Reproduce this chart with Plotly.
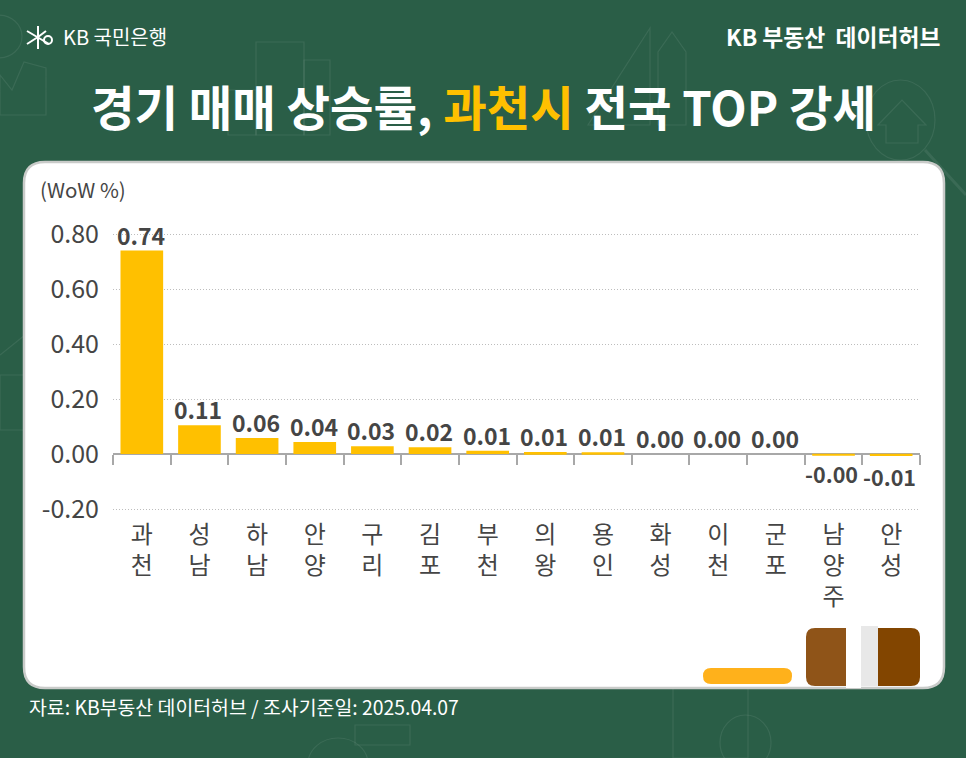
import plotly.graph_objects as go

W, H = 966, 758
regions = ["과천", "성남", "하남", "안양", "구리", "김포", "부천", "의왕", "용인", "화성", "이천", "군포", "남양주", "안성"]
values = [0.74, 0.105, 0.058, 0.044, 0.028, 0.025, 0.012, 0.007, 0.006, 0.0, 0.0, 0.0, -0.004, -0.007]
value_labels = ["0.74", "0.11", "0.06", "0.04", "0.03", "0.02", "0.01", "0.01", "0.01", "0.00", "0.00", "0.00", "-0.00", "-0.01"]
y_ticks = [-0.2, 0, 0.2, 0.4, 0.6, 0.8]
y_tick_labels = ["-0.20", "0.00", "0.20", "0.40", "0.60", "0.80"]

FONT = "Noto Sans CJK KR"
GREEN = "#2A5E47"
LINE = "rgba(255,255,255,0.08)"
TEXT = "#454545"


def px(x):
    return x / W


def py(y):
    return 1 - y / H


def rrect(x0, y0, x1, y1, r):
    return (f"M{px(x0+r)},{py(y0)} L{px(x1-r)},{py(y0)} Q{px(x1)},{py(y0)} {px(x1)},{py(y0+r)} "
            f"L{px(x1)},{py(y1-r)} Q{px(x1)},{py(y1)} {px(x1-r)},{py(y1)} L{px(x0+r)},{py(y1)} "
            f"Q{px(x0)},{py(y1)} {px(x0)},{py(y1-r)} L{px(x0)},{py(y0+r)} Q{px(x0)},{py(y0)} {px(x0+r)},{py(y0)} Z")


def pshape(path, fill=None, line=None, width=1, layer="below"):
    return dict(type="path", xref="paper", yref="paper", path=path, fillcolor=fill or "rgba(0,0,0,0)",
                line=dict(color=line or "rgba(0,0,0,0)", width=width), layer=layer)


def poly(points, close=False):
    s = "M" + " L".join(f"{px(x)},{py(y)}" for x, y in points)
    return s + (" Z" if close else "")


def box(x0, y0, x1, y1):
    return dict(type="rect", xref="paper", yref="paper", x0=px(x0), x1=px(x1), y0=py(y1), y1=py(y0),
                line=dict(color=LINE, width=1.2), fillcolor="rgba(0,0,0,0)", layer="below")


def circ(x0, y0, x1, y1):
    return dict(type="circle", xref="paper", yref="paper", x0=px(x0), x1=px(x1), y0=py(y1), y1=py(y0),
                line=dict(color=LINE, width=1.2), fillcolor="rgba(0,0,0,0)", layer="below")


shapes = [
    # faint background drawings
    box(256, 42, 304, 135), box(304, 60, 330, 135), box(228, 90, 256, 135),
    pshape(poly([(650, 28), (650, 125), (588, 125)], True), line=LINE, width=1.2),
    pshape(poly([(658, 125), (658, 52), (672, 32), (686, 52), (686, 125)], True), line=LINE, width=1.2),
    circ(866, 80, 935, 160),
    pshape(poly([(878, 125), (902, 100), (926, 125), (918, 125), (918, 143), (886, 143), (886, 125)], True), line=LINE, width=1.2),
    pshape(poly([(925, 150), (966, 195)]), line=LINE, width=3),
    circ(-25, 15, 22, 58),
    pshape(poly([(0, 115), (0, 75), (12, 90), (24, 62), (46, 68), (46, 115)], True), line=LINE, width=1.2),
    pshape(poly([(0, 355), (25, 335)]), line=LINE, width=1.2),
    box(0, 375, 25, 430),
    box(673, 688, 748, 758),
    circ(720, 715, 771, 770),
    circ(308, 738, 368, 790),
    box(355, 725, 410, 745),
    # white card
    pshape(rrect(24, 162, 944, 688, 21), fill="#FFFFFF", line="#C9CBC9", width=2.5),
    # decorative blocks at the bottom of the card
    pshape(rrect(703, 668, 792, 684, 8), fill="#FFB11B"),
    pshape(rrect(806, 628, 860, 686, 9), fill="#8F5418"),
    dict(type="rect", xref="paper", yref="paper", x0=px(846), x1=px(861), y0=py(688), y1=py(626),
         fillcolor="#FFFFFF", line=dict(width=0), layer="below"),
    dict(type="rect", xref="paper", yref="paper", x0=px(861), x1=px(878), y0=py(686), y1=py(626),
         fillcolor="#E8E8E8", line=dict(width=0), layer="below"),
    pshape(f"M{px(878)},{py(628)} L{px(911)},{py(628)} Q{px(920)},{py(628)} {px(920)},{py(637)} L{px(920)},{py(677)} "
           f"Q{px(920)},{py(686)} {px(911)},{py(686)} L{px(878)},{py(686)} Z", fill="#824500"),
    # KB logo mark
    pshape(poly([(38, 26), (38, 49)]), line="#FFFFFF", width=2),
    pshape(poly([(27, 31), (49, 44)]), line="#FFFFFF", width=2),
    pshape(poly([(27, 44), (38, 37)]), line="#FFFFFF", width=2),
    pshape(poly([(46, 31), (38, 37)]), line="#FFFFFF", width=2),
    dict(type="circle", xref="paper", yref="paper", x0=px(44), x1=px(52), y0=py(44), y1=py(36),
         line=dict(color="#FFFFFF", width=2), fillcolor="rgba(0,0,0,0)", layer="below"),
]


def label(text, x, y, size, color="#FFFFFF", anchor="left", weight=None):
    if weight:
        text = f"<b>{text}</b>"
    return dict(text=text, x=px(x), y=py(y), xref="paper", yref="paper", xanchor=anchor, yanchor="middle",
                showarrow=False, font=dict(family=FONT, size=size, color=color))


categories = ["<br>".join(r) for r in regions]

annotations = [
    label("KB 국민은행", 61, 37, 20),
    label("KB 부동산  데이터허브", 943, 37, 22.8, anchor="right", weight=True),
    label("경기 매매 상승률, <span style='color:#FFC000'>과천시</span> 전국 TOP 강세", 483, 105, 47.3, anchor="center", weight=True),
    label("(WoW %)", 38, 189, 20.5, color=TEXT),
    label("자료: KB부동산 데이터허브 / 조사기준일: 2025.04.07", 27, 706, 19.4),
]
# value labels placed through the axes, from the data lists
for c, v, t in zip(categories, values, value_labels):
    neg = v < 0
    annotations.append(dict(
        x=c, y=v, xref="x", yref="y", text=f"<b>{t}</b>", showarrow=False, xanchor="center", yanchor="middle",
        xshift=-2 if neg else -1, yshift=(-18 if t == "-0.00" else -21) if neg else 16,
        font=dict(family=FONT, size=21.5 if neg else 23, color=TEXT),
    ))

fig = go.Figure(go.Bar(
    x=categories, y=values, cliponaxis=False,
    marker=dict(color="#FFC000", line=dict(width=0)), width=0.74, hoverinfo="skip",
))

UNIT = 275  # pixels for the full -0.2..0.8 span
PAD = 0.005
zero_pos = py(454)
fig.update_layout(
    width=W, height=H, autosize=False, margin=dict(l=0, r=0, t=0, b=0),
    paper_bgcolor=GREEN, plot_bgcolor="rgba(0,0,0,0)", showlegend=False, bargap=0.26,
    shapes=shapes, annotations=annotations, font=dict(family=FONT),
    xaxis=dict(
        type="category", domain=[px(113), px(920)], anchor="free", position=zero_pos, range=[-0.5, len(regions) - 0.5],
        tickson="boundaries", ticks="outside", ticklen=10, tickcolor="#A8A8A8", tickwidth=1.5, layer="below traces",
        showline=True, linecolor="#A8A8A8", linewidth=1.5, showgrid=False, zeroline=False, automargin=False,
        ticklabelstandoff=59, tickfont=dict(family=FONT, size=24, color=TEXT),
    ),
    yaxis=dict(
        domain=[py(509 + PAD * UNIT), py(234 - PAD * UNIT)], range=[-0.2 - PAD, 0.8 + PAD],
        tickmode="array", tickvals=y_ticks, ticktext=y_tick_labels,
        showgrid=True, gridcolor="#BDBDBD", griddash="1px,2px", gridwidth=1, zeroline=False, showline=False,
        automargin=False, ticks="", tickfont=dict(family=FONT, size=25, color=TEXT), anchor="x", ticklabelstandoff=13,
    ),
)
fig.write_html("out.html", config=dict(displayModeBar=False),
               post_script="document.body.style.margin='0';document.body.style.background='%s';" % GREEN)
